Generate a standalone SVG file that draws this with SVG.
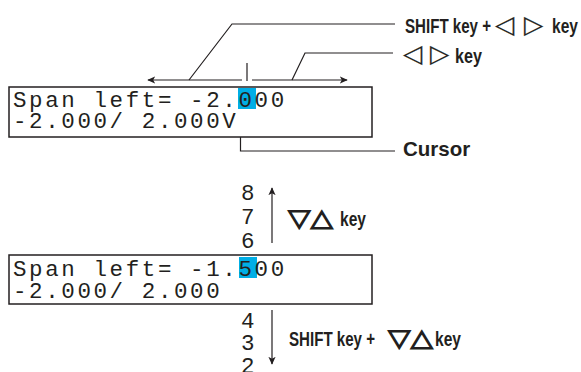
<svg xmlns="http://www.w3.org/2000/svg" width="581" height="372" viewBox="0 0 581 372">
<style>
.mono{font-family:"Liberation Mono","Courier New",monospace;font-size:22.5px;letter-spacing:2.6px;fill:#231f20}
.lbl{font-family:"Liberation Sans",Arial,sans-serif;font-weight:bold;font-size:19.5px;fill:#231f20}
.sym{font-family:"DejaVu Sans",sans-serif;font-size:25px;fill:#231f20;stroke:#231f20;stroke-width:0.25}
.symb{font-family:"DejaVu Sans",sans-serif;font-size:24px;fill:#231f20;stroke:#231f20;stroke-width:1.1}
.box{fill:#fff;stroke:#231f20;stroke-width:1.5}
.hl{fill:#00aee6}
.ln{fill:none;stroke:#231f20;stroke-width:1.2}
</style>
<defs>
<marker id="ah" viewBox="0 0 10 10" refX="9" refY="5" markerWidth="8" markerHeight="8" markerUnits="userSpaceOnUse" orient="auto">
<path d="M0,0.5 L10,5 L0,9.5 L2.5,5 Z" fill="#231f20"/>
</marker>
</defs>
<g id="connectors">
<line class="ln" x1="242" y1="80" x2="148" y2="80" marker-end="url(#ah)"/>
<line class="ln" x1="252" y1="80" x2="347" y2="80" marker-end="url(#ah)"/>
<line class="ln" x1="247" y1="63" x2="247" y2="81"/>
<polyline class="ln" points="189,80 232,24 395,24"/>
<polyline class="ln" points="292,80 305,53 393,53"/>
<path class="ln" d="M395,151 H240.5 V114" marker-end="url(#ah)"/>
<line class="ln" x1="272" y1="243" x2="272" y2="188" marker-end="url(#ah)"/>
<line class="ln" x1="272" y1="310" x2="272" y2="364" marker-end="url(#ah)"/>
</g>
<g id="display1">
<rect class="box" x="9" y="87" width="363" height="50"/>
<rect class="hl" x="238" y="88" width="18" height="21"/>
<text class="mono" x="13" y="107">Span left= -2.000</text>
<text class="mono" x="13" y="128">-2.000/ 2.000V</text>
</g>
<g id="display2">
<rect class="box" x="9" y="255" width="363" height="49"/>
<rect class="hl" x="239" y="257" width="18" height="21"/>
<text class="mono" x="13" y="276">Span left= -1.500</text>
<text class="mono" x="13" y="298">-2.000/ 2.000</text>
</g>
<g id="label-shift-lr">
<text class="lbl" x="405" y="33" textLength="86" lengthAdjust="spacingAndGlyphs">SHIFT key +</text>
<text class="sym" x="495" y="33">◁</text>
<text class="sym" x="524" y="33">▷</text>
<text class="lbl" x="552" y="33" textLength="26" lengthAdjust="spacingAndGlyphs">key</text>
</g>
<g id="label-lr">
<text class="sym" x="403" y="62">◁</text>
<text class="sym" x="430" y="62">▷</text>
<text class="lbl" x="455" y="63" textLength="27" lengthAdjust="spacingAndGlyphs">key</text>
</g>
<g id="label-cursor">
<text class="lbl" x="403" y="156" style="font-size:20.5px">Cursor</text>
</g>
<g id="digits-up">
<text class="mono" x="241" y="200">8</text>
<text class="mono" x="241" y="224">7</text>
<text class="mono" x="241" y="248">6</text>
</g>
<g id="label-updown">
<text class="symb" x="288" y="226" textLength="45" lengthAdjust="spacingAndGlyphs">▽△</text>
<text class="lbl" x="340" y="226" textLength="26" lengthAdjust="spacingAndGlyphs">key</text>
</g>
<g id="digits-down">
<text class="mono" x="241" y="328">4</text>
<text class="mono" x="241" y="350">3</text>
<text class="mono" x="241" y="373">2</text>
</g>
<g id="label-shift-updown">
<text class="lbl" x="289" y="346" textLength="86" lengthAdjust="spacingAndGlyphs">SHIFT key +</text>
<text class="symb" x="388" y="346" textLength="45" lengthAdjust="spacingAndGlyphs">▽△</text>
<text class="lbl" x="435" y="346" textLength="26" lengthAdjust="spacingAndGlyphs">key</text>
</g>
</svg>
